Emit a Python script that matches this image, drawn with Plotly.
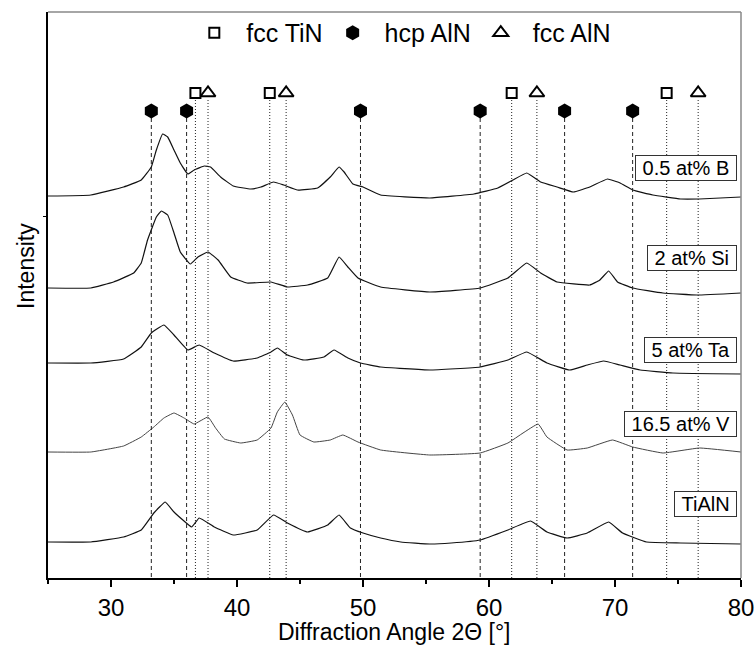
import plotly.graph_objects as go

# --- XRD patterns (2θ in degrees, intensity in arbitrary units, stacked) ---
two_theta_B = [25.0, 28.4, 31.0, 32.4, 33.2, 33.6, 34.1, 34.5, 35.0, 35.5, 36.1, 36.6, 37.4, 37.9,
               38.7, 39.7, 41.1, 41.9, 42.9, 43.7, 44.8, 46.4, 47.4, 48.1, 48.5, 49.2, 50.0, 51.4,
               55.3, 58.8, 60.7, 61.9, 63.0, 64.1, 65.4, 66.7, 68.0, 69.4, 70.4, 71.4, 73.0, 75.2,
               76.7, 80.0]
int_B = [379, 380, 388, 395, 408, 425, 441, 438, 425, 412, 401, 405, 409, 408,
         398, 389, 386, 388, 393, 390, 385, 387, 398, 408, 403, 391, 388, 380,
         377, 381, 387, 395, 402, 393, 388, 383, 388, 396, 392, 385, 380, 376,
         376, 378]

two_theta_Si = [25.0, 28.4, 30.2, 31.8, 32.4, 32.9, 33.6, 34.0, 34.5, 35.0, 35.5, 36.3, 36.9, 37.7,
                38.5, 39.5, 40.8, 42.7, 44.0, 45.6, 47.2, 48.1, 48.8, 49.6, 51.4, 55.3, 59.3, 61.5,
                63.0, 64.1, 65.4, 68.0, 68.8, 69.5, 70.2, 71.4, 73.8, 76.5, 80.0]
int_Si = [287, 287, 293, 302, 312, 335, 358, 364, 360, 342, 323, 311, 318, 323,
          315, 298, 292, 293, 288, 290, 297, 318, 308, 297, 288, 283, 287, 297,
          312, 302, 293, 290, 295, 304, 293, 287, 282, 280, 282]

two_theta_Ta = [25.0, 28.4, 31.0, 32.4, 33.2, 34.2, 35.0, 36.1, 37.0, 38.2, 39.7, 41.6, 42.7, 43.2,
                44.0, 45.3, 46.9, 47.7, 48.8, 49.8, 51.4, 55.3, 59.3, 61.5, 63.0, 64.6, 66.4, 67.8,
                69.1, 70.4, 72.0, 74.6, 80.0]
int_Ta = [212, 212, 216, 228, 242, 250, 240, 225, 230, 222, 214, 217, 223, 227,
          220, 215, 218, 225, 217, 212, 208, 205, 208, 215, 223, 212, 205, 210,
          214, 210, 205, 202, 201]

two_theta_V = [25.0, 28.4, 31.0, 32.4, 33.4, 34.2, 35.0, 35.8, 36.6, 37.7, 38.3, 39.0, 40.3, 41.6,
               42.7, 43.2, 43.8, 44.4, 45.0, 46.1, 47.4, 48.4, 49.6, 51.4, 55.3, 59.3, 61.5, 62.7,
               63.9, 64.6, 66.2, 67.8, 69.8, 71.4, 73.8, 76.7, 80.0]
int_V = [123, 123, 129, 138, 148, 157, 162, 157, 151, 158, 147, 136, 132, 135,
         147, 163, 173, 160, 140, 133, 135, 140, 133, 125, 120, 122, 132, 142,
         151, 138, 125, 127, 135, 128, 122, 127, 123]

two_theta_TiAlN = [25.0, 28.4, 31.0, 32.4, 33.4, 34.3, 35.0, 36.4, 37.0, 38.2, 39.7, 41.6, 42.9, 44.0,
                   45.6, 47.2, 48.1, 49.0, 50.0, 51.4, 53.0, 55.3, 57.0, 59.3, 61.5, 63.3, 64.6, 66.2,
                   67.8, 69.5, 70.6, 72.5, 75.2, 80.0]
int_TiAlN = [33, 33, 38, 45, 62, 73, 63, 48, 57, 48, 40, 45, 60, 52,
             43, 50, 60, 47, 42, 37, 33, 31, 32, 35, 45, 54, 43, 37,
             42, 53, 42, 33, 32, 31]

sample_labels = ["0.5 at% B", "2 at% Si", "5 at% Ta", "16.5 at% V", "TiAlN"]
label_levels = [407, 317, 225, 151, 71]

# --- reference peak positions (2θ) ---
fcc_TiN_pos = [36.7, 42.6, 61.8, 74.1]
hcp_AlN_pos = [33.2, 36.0, 49.8, 59.3, 66.0, 71.4]
fcc_AlN_pos = [37.7, 43.9, 63.8, 76.6]

y_fcc_marker = 482
y_hcp_marker = 464
y_floor = -3
y_top = 563

FONT = "Liberation Sans, Arial, sans-serif"
NBSP = "\u00a0"

fig = go.Figure()

patterns = [
    (two_theta_B, int_B, "#111111", 1.2),
    (two_theta_Si, int_Si, "#111111", 1.2),
    (two_theta_Ta, int_Ta, "#111111", 1.2),
    (two_theta_V, int_V, "#444444", 1.0),
    (two_theta_TiAlN, int_TiAlN, "#111111", 1.2),
]
for xs, ys, col, w in patterns:
    fig.add_trace(go.Scatter(x=xs, y=ys, mode="lines", showlegend=False,
                             line=dict(color=col, width=w, shape="spline", smoothing=0.3),
                             hoverinfo="skip"))


def drop_lines(positions, top, dash):
    xs, ys = [], []
    for p in positions:
        xs += [p, p, None]
        ys += [top, y_floor, None]
    fig.add_trace(go.Scatter(x=xs, y=ys, mode="lines", showlegend=False,
                             line=dict(color="#222222", width=1, dash=dash),
                             hoverinfo="skip"))


drop_lines(hcp_AlN_pos, y_hcp_marker - 7, "4px,3px")
drop_lines(fcc_TiN_pos, y_fcc_marker - 7, "1px,2px")
drop_lines(fcc_AlN_pos, y_fcc_marker - 7, "1px,2px")

fig.add_trace(go.Scatter(x=fcc_TiN_pos, y=[y_fcc_marker] * len(fcc_TiN_pos), mode="markers",
                         name=NBSP + "fcc TiN",
                         marker=dict(symbol="square-open", size=10, color="black",
                                     line=dict(width=2, color="black"))))
fig.add_trace(go.Scatter(x=hcp_AlN_pos, y=[y_hcp_marker] * len(hcp_AlN_pos), mode="markers",
                         name=NBSP + "hcp AlN",
                         marker=dict(symbol="hexagon", size=15, color="black",
                                     line=dict(width=0))))
fig.add_trace(go.Scatter(x=fcc_AlN_pos, y=[y_fcc_marker] * len(fcc_AlN_pos), mode="markers",
                         name=NBSP + "fcc AlN",
                         marker=dict(symbol="triangle-up-open", size=13, color="black",
                                     line=dict(width=2, color="black"))))

annotations = []
for lab, lev in zip(sample_labels, label_levels):
    annotations.append(dict(x=79.7, y=lev, xref="x", yref="y", text=NBSP + lab + NBSP,
                            showarrow=False, xanchor="right", yanchor="middle",
                            font=dict(family=FONT, size=20, color="black"),
                            bgcolor="white", bordercolor="#333333", borderwidth=1,
                            borderpad=1))

annotations.append(dict(x=0.5, y=-0.095, xref="paper", yref="paper",
                        text="Diffraction Angle 2\u0398 [\u00b0]", showarrow=False,
                        xanchor="center", yanchor="middle",
                        font=dict(family=FONT, size=23, color="black")))
annotations.append(dict(x=-0.032, y=0.551, xref="paper", yref="paper", text="Intensity",
                        showarrow=False, textangle=-90, xanchor="center", yanchor="middle",
                        font=dict(family=FONT, size=23, color="black")))

fig.update_layout(
    width=756, height=659,
    margin=dict(l=48, r=15, t=12, b=81, autoexpand=False),
    paper_bgcolor="white", plot_bgcolor="white",
    font=dict(family=FONT, color="black"),
    annotations=annotations,
    legend=dict(orientation="h", x=0.512, xanchor="center", y=0.963, yanchor="middle",
                font=dict(family=FONT, size=25, color="black"),
                bgcolor="rgba(0,0,0,0)", itemwidth=40, tracegroupgap=0),
    shapes=[
        dict(type="line", xref="paper", yref="paper", x0=0, x1=1, y0=1, y1=1,
             line=dict(color="#888888", width=1.5)),
        dict(type="line", xref="paper", yref="paper", x0=1, x1=1, y0=0, y1=1,
             line=dict(color="#888888", width=1.5)),
    ],
)

fig.update_xaxes(range=[25, 80], tickvals=[30, 40, 50, 60, 70, 80], ticks="outside",
                 ticklen=7, tickwidth=1.5, tickcolor="black", showline=True, linecolor="black",
                 linewidth=1.5, showgrid=False, zeroline=False, automargin=False,
                 tickfont=dict(family=FONT, size=24, color="black"),
                 minor=dict(tickvals=[25, 35, 45, 55, 65, 75], ticks="outside", ticklen=4,
                            tickwidth=1.5, tickcolor="black", showgrid=False))
fig.update_yaxes(range=[y_floor, y_top], tickvals=[359], showticklabels=False, ticks="outside",
                 ticklen=3, tickcolor="black", showline=True, linecolor="black", linewidth=1.5,
                 showgrid=False, zeroline=False, automargin=False)

fig.write_html("out.html")
